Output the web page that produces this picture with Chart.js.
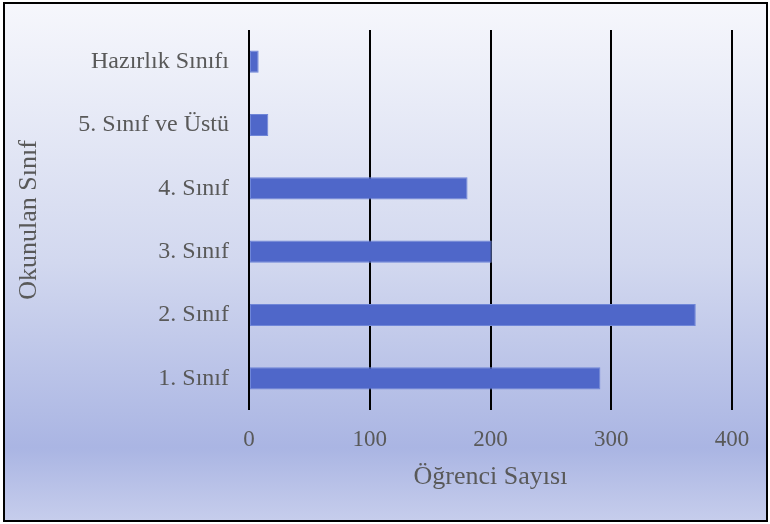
<!DOCTYPE html>
<html>
<head>
<meta charset="utf-8">
<script src="https://cdn.jsdelivr.net/npm/chart.js@4"></script>
<style>
  html, body { margin: 0; padding: 0; background: #fff; }
  canvas { display: block; }
</style>
</head>
<body>
<canvas id="myChart" width="770" height="524"></canvas>
<script>
// kategoriler (yukaridan asagiya)
const siniflar = ['Hazırlık Sınıfı', '5. Sınıf ve Üstü', '4. Sınıf', '3. Sınıf', '2. Sınıf', '1. Sınıf'];
const ogrenciSayilari = [8, 16, 181, 201, 370, 291];
const xTicks = [0, 100, 200, 300, 400];

const serif = "'Liberation Serif', 'Times New Roman', serif";
const yaziRengi = '#595959';

// arka plan gradyani ve cerceve
const arkaPlan = {
  id: 'arkaPlan',
  beforeDraw(chart) {
    const ctx = chart.ctx;
    ctx.save();
    ctx.fillStyle = '#ffffff';
    ctx.fillRect(0, 0, chart.width, chart.height);
    const g = ctx.createLinearGradient(0, 4, 0, 520);
    g.addColorStop(0, '#f6f7fc');
    g.addColorStop(0.5, '#d2d8ef');
    g.addColorStop(0.86, '#aab5e3');
    g.addColorStop(1, '#c6cdec');
    ctx.fillStyle = g;
    ctx.fillRect(4, 4, 762, 516);
    ctx.restore();
  },
  afterDraw(chart) {
    const ctx = chart.ctx;
    ctx.save();
    ctx.strokeStyle = '#000000';
    ctx.lineWidth = 2;
    ctx.strokeRect(4, 3, 763, 518);
    ctx.restore();
  }
};

new Chart(document.getElementById('myChart'), {
  type: 'bar',
  data: {
    labels: siniflar,
    datasets: [{
      label: 'Öğrenci Sayısı',
      data: ogrenciSayilari,
      backgroundColor: '#4f67c9',
      borderColor: '#6f86d8',
      borderWidth: 1,
      borderSkipped: false,
      barPercentage: 0.35,
      categoryPercentage: 1
    }]
  },
  options: {
    indexAxis: 'y',
    responsive: false,
    animation: false,
    devicePixelRatio: 1,
    layout: { padding: { left: 10, right: 38, top: 30, bottom: 27 } },
    plugins: {
      legend: { display: false },
      tooltip: { enabled: false }
    },
    scales: {
      x: {
        min: 0,
        max: 400,
        afterBuildTicks(scale) {
          scale.ticks = xTicks.map(v => ({ value: v }));
        },
        afterFit(scale) { scale.height = 87; },
        grid: { color: '#000000', lineWidth: 2, drawTicks: false },
        border: { display: false },
        ticks: {
          padding: 16,
          color: yaziRengi,
          font: { family: serif, size: 23 }
        },
        title: {
          display: true,
          text: 'Öğrenci Sayısı',
          color: yaziRengi,
          font: { family: serif, size: 26 }
        }
      },
      y: {
        afterFit(scale) {
          scale.width = 239;
          scale.paddingTop = 0;
          scale.paddingBottom = 0;
        },
        grid: { display: false, drawTicks: false },
        border: { display: false },
        ticks: {
          padding: 20,
          color: yaziRengi,
          font: { family: serif, size: 24 }
        },
        title: {
          display: true,
          text: 'Okunulan Sınıf',
          color: yaziRengi,
          font: { family: serif, size: 26 }
        }
      }
    }
  },
  plugins: [arkaPlan]
});
</script>
</body>
</html>
